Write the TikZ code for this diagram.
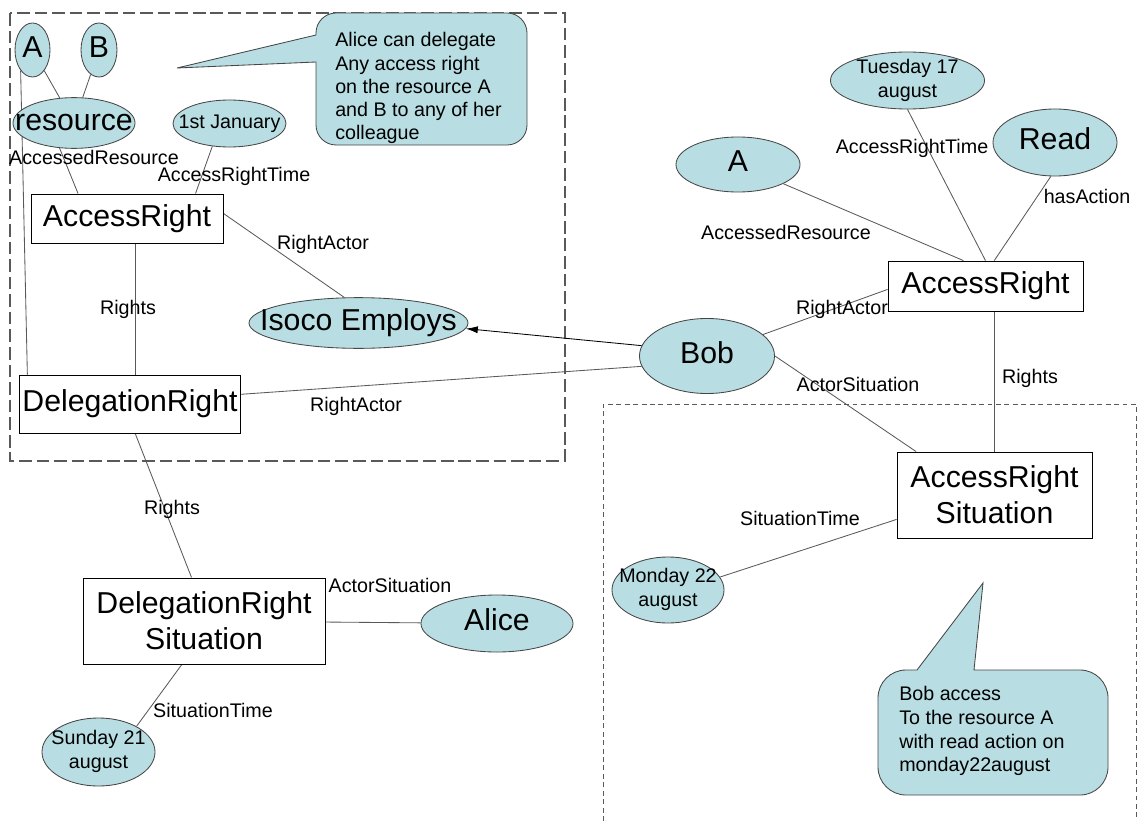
\documentclass[tikz,border=0pt]{standalone}
\usepackage{fontspec}
\setmainfont{Liberation Sans}
\usepackage{tikz}
\usetikzlibrary{shapes.geometric,arrows.meta,backgrounds}
\usepackage{xcolor}
\definecolor{bubble}{RGB}{184,222,227}
\definecolor{rim}{RGB}{70,70,70}
\newcommand{\bigf}{\fontsize{21.5}{25.5}\selectfont}
\newcommand{\smallf}{\fontsize{14}{17}\selectfont}
\newcommand{\ztext}[1]{\makebox[0pt]{\begin{tabular}{@{}c@{}}#1\end{tabular}}}

\begin{document}
\begin{tikzpicture}[
    x=0.025cm, y=-0.025cm,
    ent/.style={ellipse, draw=rim, fill=bubble, line width=0.6pt, inner sep=0pt, font=\bigf},
    sment/.style={ent, inner ysep=-4pt, font=\smallf},
    cls/.style={draw=black, fill=white, line width=0.6pt, inner xsep=2pt, inner ysep=0pt, align=center, font=\bigf},
    rel/.style={draw=black!65, line width=0.6pt},
    lbl/.style={font=\smallf, inner sep=0pt},
    note/.style={draw=rim, fill=bubble, line width=0.6pt},
    notetext/.style={font=\fontsize{14}{16.4}\selectfont, align=left, inner sep=0pt, anchor=west},
    frameA/.style={draw=black!65, line width=0.9pt, dash pattern=on 9pt off 3.5pt},
    frameB/.style={draw=black!65, line width=0.7pt, dash pattern=on 3.5pt off 2.5pt},
    arrow/.style={-{Latex[length=0.3cm,width=0.18cm]}, draw=black, line width=0.6pt}
]
\useasboundingbox (0,0) rectangle (1138,821);

% ========== FRAMES ==========
\draw[frameA] (10,13) rectangle (565,461);
\draw[frameB] (603,821) -- (603,404) -- (1136,404) -- (1136,821);

% ========== DELEGATION SIDE ==========
\node[ent, minimum width=0.875cm, minimum height=1.35cm] (a1) at (32.5,50) {\ztext{A}};
\node[ent, minimum width=0.9cm, minimum height=1.35cm] (b1) at (99,50) {\ztext{B}};
\node[ent, minimum width=3.05cm, minimum height=1.2cm] (res) at (74,123) {\ztext{resource}};
\node[sment, minimum width=2.825cm, minimum height=1.175cm] (jan) at (229.5,123.5) {\ztext{1st January}};
\node[cls, minimum width=4.8cm, minimum height=1.225cm] (arL) at (127,218.5) {AccessRight};
\node[ent, minimum width=5.475cm, minimum height=1.2cm] (iso) at (358.5,323) {\ztext{Isoco Employs}};
\node[cls, minimum width=5.5cm, minimum height=1.45cm] (drL) at (130,404) {DelegationRight};
\node[cls, minimum width=6.05cm, minimum height=2.15cm] (drs) at (204,621) {DelegationRight\\Situation};
\node[ent, minimum width=3.8cm, minimum height=1.425cm] (alice) at (497,623.5) {\ztext{Alice}};
\node[sment, minimum width=2.825cm, minimum height=1.7cm] (sun) at (98.5,752) {\ztext{Sunday 21\\august}};

% ========== ACCESS SIDE ==========
\node[ent, minimum width=3.1cm, minimum height=1.375cm] (aR) at (738,164.5) {\ztext{A}};
\node[sment, minimum width=3.85cm, minimum height=1.425cm] (tue) at (907.5,80.5) {\ztext{Tuesday 17\\august}};
\node[ent, minimum width=3.1cm, minimum height=1.675cm] (read) at (1055,142.5) {\ztext{Read}};
\node[cls, minimum width=4.875cm, minimum height=1.25cm] (arR) at (985.5,286) {AccessRight};
\node[ent, minimum width=3.375cm, minimum height=1.875cm] (bob) at (707,356) {\ztext{Bob}};
\node[cls, minimum width=4.875cm, minimum height=2.15cm] (ars) at (994.5,495) {AccessRight\\Situation};
\node[sment, minimum width=2.8cm, minimum height=1.65cm] (mon) at (668,590) {\ztext{Monday 22\\august}};

% ========== CALLOUTS ==========
\draw[note] (316,100) -- (316,62) -- (177,68) -- (316,35) [rounded corners=0.5cm] -- (316,13) -- (527,13) -- (527,145) -- (316,145) [sharp corners] -- cycle;
\node[notetext] (n1) at (335,88) {Alice can delegate\\Any access right\\on the resource A\\and B to any of her\\colleague};

\draw[note] (910,670) -- (917,670) -- (983,583) -- (974,670) [rounded corners=0.7cm] -- (1108,670) -- (1108,795) -- (878,795) -- (878,670) [sharp corners] -- cycle;
\node[notetext, font=\smallf] (n2) at (899,731) {Bob access\\To the resource A\\with read action on\\monday22august};

% ========== CONNECTORS ==========
\begin{scope}[on background layer]
\draw[rel] (a1) -- (res);
\draw[rel] (b1) -- (res);
\draw[rel] (a1.240) -- (drL.164);
\draw[rel] (res.240) -- (arL.153);
\draw[rel] (jan.233) -- (arL.20);
\draw[rel] (arL.3) -- (iso.119);
\draw[rel] (arL.-72) -- (arL.-72 |- drL.north);
\draw[rel] (drL.5) -- (bob.189);
\draw[rel] (drL.-80) -- (drs.106);
\draw[rel] (drs) -- (alice);
\draw[rel] (drs.243) -- (sun.34);
% access side
\draw[rel] (aR.-23) -- (arR.131);
\draw[rel] (tue.south) -- (arR.north);
\draw[rel] (read.-97) -- (arR.71);
\draw[rel] (bob.21) -- (arR.182);
\draw[rel] (bob.east) -- (ars.151);
\draw[rel] (arR.-71) -- (arR.-71 |- ars.north);
\draw[rel] (ars.194) -- (mon.14);
\end{scope}
\draw[arrow] (bob.171) -- (iso.-3);

% ========== RELATION LABELS ==========
\node[lbl] (tAR1) at (94,157) {AccessedResource};
\node[lbl] (tART1) at (234,176) {AccessRightTime};
\node[lbl] (tRA1) at (323,244) {RightActor};
\node[lbl] (tRi1) at (128,309) {Rights};
\node[lbl] (tRA2) at (356,406) {RightActor};
\node[lbl] (tRi2) at (172,509) {Rights};
\node[lbl] (tAS1) at (390,585) {ActorSituation};
\node[lbl] (tST1) at (213,710) {SituationTime};
\node[lbl] (tART2) at (912,148) {AccessRightTime};
\node[lbl] (tHA) at (1087,196) {hasAction};
\node[lbl] (tAR2) at (786,232) {AccessedResource};
\node[lbl] (tRA3) at (842,309) {RightActor};
\node[lbl] (tAS2) at (858,384) {ActorSituation};
\node[lbl] (tRi3) at (1030,378) {Rights};
\node[lbl] (tST2) at (800,518) {SituationTime};

\end{tikzpicture}
\end{document}
